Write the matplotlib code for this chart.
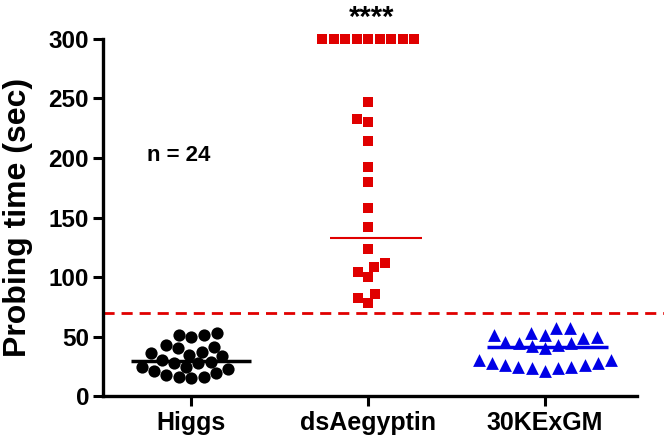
import numpy as np
import matplotlib
matplotlib.use("Agg")
import matplotlib.pyplot as plt
import seaborn as sns

categories = ["Higgs", "dsAegyptin", "30KExGM"]

higgs = [51.3, 50.0, 51.3, 52.7, 42.9, 41.4, 35.9, 33.6, 30.3, 34.5, 37.2, 40.0,
         28.0, 28.5, 24.6, 22.4, 19.0, 15.7, 14.8, 15.7, 17.6, 21.3, 24.1, 27.4]
ds_aegyptin = [300] * 9 + [247.3, 232.5, 230.5, 214.5, 192.7, 180.0, 158.2, 142.3,
                           123.2, 111.5, 104.5, 100.3, 108.1, 85.5, 78.4, 82.6]
kexgm = [56.9, 56.9, 51.3, 49.8, 44.8, 44.2, 42.0, 40.0, 42.9, 45.6, 48.5, 51.3, 52.7,
         30.3, 28.0, 26.0, 24.6, 23.2, 21.3, 23.2, 24.6, 26.0, 28.0, 30.3]
center_lines = [29.4, 132.5, 41.4]
threshold = 70
yticks = [0, 50, 100, 150, 200, 250, 300]

plt.rcParams['font.family'] = ['Liberation Sans', 'DejaVu Sans']
fig = plt.figure(figsize=(6.64, 4.43), dpi=100)
ax = fig.add_axes([0.155, 0.106, 0.804, 0.806])

groups = [higgs, ds_aegyptin, kexgm]
colors = ["black", "#e00000", "#0000e6"]
markers = ["o", "s", "^"]
swarm_sizes = [8.8, 9.6, 9.2]   # spacing used by the swarm layout
draw_sizes = [8.8, 7.9, 9.2]    # drawn marker size
for cat, vals, c, m, s, d in zip(categories, groups, colors, markers, swarm_sizes, draw_sizes):
    n_before = len(ax.collections)
    sns.swarmplot(x=[cat] * len(vals), y=vals, order=categories, color=c,
                  marker=m, size=s, ax=ax, linewidth=0, zorder=3)
    fig.canvas.draw()
    for coll in ax.collections[n_before:]:
        coll.set_sizes([d ** 2])
for coll in ax.collections:
    coll.set_clip_on(False)

# center lines
half = [0.34, 0.26, 0.34]
lws = [2.5, 1.5, 2.5]
offs = [0, 0.045, 0.015]
for i, (v, c) in enumerate(zip(center_lines, colors)):
    ax.plot([i + offs[i] - half[i], i + offs[i] + half[i]], [v, v], color=c,
            lw=lws[i], zorder=4, solid_capstyle='butt')

ax.plot([-0.5, 2.69], [threshold, threshold], color="#e00000", lw=2,
        ls=(0, (4, 2.5)), clip_on=False, zorder=2)

ax.set_xlim(-0.5, 2.52)
ax.set_ylim(0, 300)
ax.set_yticks(yticks)
ax.set_yticklabels([str(t) for t in yticks])
ax.set_ylabel("Probing time (sec)", fontsize=23, fontweight='bold', labelpad=11)
ax.set_xlabel("")
for lab in ax.get_yticklabels():
    lab.set_fontweight('bold')
    lab.set_fontsize(17.5)
for lab in ax.get_xticklabels():
    lab.set_fontweight('bold')
    lab.set_fontsize(18)
for side in ["top", "right"]:
    ax.spines[side].set_visible(False)
for side in ["left", "bottom"]:
    ax.spines[side].set_linewidth(2.4)
ax.tick_params(axis='both', width=2.2, length=7, direction='out')
ax.tick_params(axis='y', pad=3)
ax.tick_params(axis='x', pad=4)

ax.text(-0.07, 202, "n = 24", ha='center', va='center', fontsize=16, fontweight='bold')
ax.text(1.02, 318, "****", ha='center', va='center', fontsize=21, fontweight='bold',
        clip_on=False)

fig.savefig("out.png", dpi=100)
